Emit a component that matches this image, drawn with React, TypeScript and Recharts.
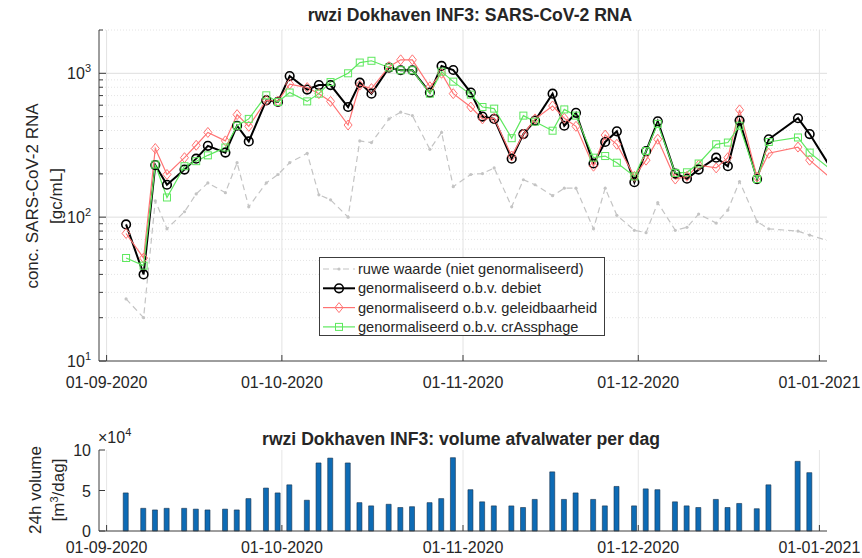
import React from "react";
import { LineChart, Line, BarChart, Bar, XAxis, YAxis, ReferenceLine, Legend } from "recharts";

// sampling days, counted from 01-09-2020 (the last one lies past the x-limit)
const SAMPLE_DAYS = [
  3, 6, 8, 10, 13, 15, 17, 20, 22, 24, 27, 29, 31, 34, 36, 38, 41, 43, 45, 48,
  50, 52, 55, 57, 59, 62, 64, 66, 69, 71, 73, 76, 78, 80, 83, 85, 87, 90, 92, 94,
  97, 99, 101, 104, 106, 108, 111, 113, 118, 120, 124,
];
const SAMPLE_HOUR = 8;

// gc/mL
const RAW = [
  27, 20, 130, 83, 109, 145, 173, 148, 239, 118, 173, 198, 239, 278, 143, 132, 100, 339, 330, 482,
  537, 508, 296, 388, 163, 198, 201, 220, 118, 182, 168, 141, 159, 159, 83, 159, 103, 81, 78, 126,
  81, 85, 105, 91, 112, 177, 93, 83, 80, 75, 67,
];
const DEBIET = [
  89, 40, 230, 168, 214, 255, 313, 281, 432, 336, 649, 632, 957, 771, 828, 828, 583, 861, 722, 1096,
  1050, 1050, 735, 1125, 1054, 735, 500, 482, 255, 378, 469, 722, 432, 531, 236, 333, 395, 175, 288, 464,
  201, 185, 214, 259, 226, 469, 184, 348, 487, 378, 208,
];
const GELEID = [
  77, 52, 300, 198, 259, 316, 388, 339, 516, 428, 649, 640, 842, 796, 722, 638, 437, 828, 783, 1113,
  1241, 1241, 806, 1000, 722, 583, 482, 487, 266, 378, 482, 593, 487, 428, 226, 372, 321, 192, 249, 348,
  184, 192, 230, 220, 259, 557, 190, 278, 307, 249, 181,
];
const CRASS = [
  52, 46, 232, 137, 226, 245, 269, 305, 432, 482, 703, 632, 735, 638, 722, 869, 1000, 1188, 1222, 1097,
  1050, 1050, 722, 1027, 875, 711, 583, 568, 354, 508, 461, 399, 561, 508, 259, 266, 239, 192, 288, 445,
  203, 205, 236, 321, 330, 432, 184, 333, 358, 281, 208,
];

// m3/dag
const VOLUME = [
  47000, 28000, 26000, 28000, 28000, 27000, 26000, 27000, 26000, 40000,
  53000, 47000, 57000, 38000, 84000, 90000, 84000, 35000, 31000, 33000,
  29000, 30000, 35000, 40000, 90500, 51000, 36000, 31000, 31000, 29000,
  39000, 73000, 39000, 47000, 39000, 31000, 55000, 31000, 52000, 51000,
  36000, 31000, 29000, 39000, 29000, 34000, 27500, 57000, 86000, 72000,
];

const MONTH_DAYS = [0, 30, 61, 91, 122];
const MONTH_LABELS = ["01-09-2020", "01-10-2020", "01-11-2020", "01-12-2020", "01-01-2021"];
const LOG_MAJOR = [10, 100, 1000];
const LOG_MINOR = [20, 30, 40, 50, 60, 70, 80, 90, 200, 300, 400, 500, 600, 700, 800, 900, 2000];
const VOL_TICKS = [0, 50000, 100000];

const SERIES = [
  { key: "raw", name: "ruwe waarde (niet genormaliseerd)", color: "#c4c4c4", width: 1.2, dash: "6 4", marker: "dot" },
  { key: "debiet", name: "genormaliseerd o.b.v. debiet", color: "#000000", width: 2, dash: undefined, marker: "circle" },
  { key: "geleid", name: "genormaliseerd o.b.v. geleidbaarheid", color: "#ff7373", width: 1.2, dash: undefined, marker: "diamond" },
  { key: "crass", name: "genormaliseerd o.b.v. crAssphage", color: "#5ee85e", width: 1.2, dash: undefined, marker: "square" },
];

const FONT = '"Liberation Sans", Arial, Helvetica, sans-serif';
const TXT = "#262626";
const AX = "#3c3c3c";
const X_DOMAIN: [number, number] = [-1.3, 123.3];

const concRows = SAMPLE_DAYS.map((d, i) => ({
  t: d + SAMPLE_HOUR / 24,
  raw: RAW[i],
  debiet: DEBIET[i],
  geleid: GELEID[i],
  crass: CRASS[i],
}));
const volRows = VOLUME.map((v, i) => ({ t: SAMPLE_DAYS[i] + SAMPLE_HOUR / 24, vol: v }));

function Marker({ kind, cx, cy, color }: any) {
  if (cx == null || cy == null) return null;
  if (kind === "circle")
    return <circle cx={cx} cy={cy} r={4.3} fill="none" stroke={color} strokeWidth={1.6} />;
  if (kind === "diamond")
    return (
      <path
        d={`M${cx},${cy - 5}L${cx + 4},${cy}L${cx},${cy + 5}L${cx - 4},${cy}Z`}
        fill="none"
        stroke={color}
        strokeWidth={1}
      />
    );
  if (kind === "square")
    return <rect x={cx - 3.5} y={cy - 3.5} width={7} height={7} fill="none" stroke={color} strokeWidth={1} />;
  return <circle cx={cx} cy={cy} r={1.6} fill={color} />;
}

const makeXTick = (labelOffset: number, showLabel: boolean, dir: number) => (props: any) => {
  const { x, y, payload } = props;
  const i = MONTH_DAYS.indexOf(payload.value);
  return (
    <g>
      <line x1={x} x2={x} y1={y} y2={y + dir * 6} stroke={AX} />
      {showLabel && (
        <text x={x} y={y + labelOffset} textAnchor="middle" fontSize={16} fill={TXT} fontFamily={FONT}>
          {MONTH_LABELS[i]}
        </text>
      )}
    </g>
  );
};

const makeLogTick = (dir: number, showLabel: boolean) => (props: any) => {
  const { x, y, payload } = props;
  const exp = Math.log10(payload.value);
  const major = Math.abs(exp - Math.round(exp)) < 1e-6;
  return (
    <g>
      <line x1={x} x2={x + dir * (major ? 7 : 4)} y1={y} y2={y} stroke={AX} />
      {showLabel && major && (
        <text x={x - 8} y={y + 6} textAnchor="end" fontSize={16} fill={TXT} fontFamily={FONT}>
          <tspan>10</tspan>
          <tspan dy={-7} fontSize={11}>
            {Math.round(exp)}
          </tspan>
        </text>
      )}
    </g>
  );
};

const makeVolTick = (dir: number, showLabel: boolean) => (props: any) => {
  const { x, y, payload } = props;
  return (
    <g>
      <line x1={x} x2={x + dir * 6} y1={y} y2={y} stroke={AX} />
      {showLabel && (
        <text x={x - 8} y={y + 6} textAnchor="end" fontSize={16} fill={TXT} fontFamily={FONT}>
          {payload.value / 10000}
        </text>
      )}
    </g>
  );
};

function LegendBox() {
  return (
    <svg width={286} height={79} style={{ display: "block", overflow: "visible" }}>
      <rect x={0.5} y={0.5} width={285} height={78} fill="#fff" stroke={AX} strokeWidth={1} />
      {SERIES.map((s, i) => {
        const cy = 12 + i * 19.3;
        return (
          <g key={s.key}>
            <line x1={4} x2={36} y1={cy} y2={cy} stroke={s.color} strokeWidth={s.width} strokeDasharray={s.dash} />
            <Marker kind={s.marker} cx={20} cy={cy} color={s.color} />
            <text x={39} y={cy + 5} fontSize={14.6} fill={TXT} fontFamily={FONT}>
              {s.name}
            </text>
          </g>
        );
      })}
    </svg>
  );
}

const abs = (left: number, top: number, extra: React.CSSProperties = {}): React.CSSProperties => ({
  position: "absolute",
  left,
  top,
  fontFamily: FONT,
  color: TXT,
  whiteSpace: "nowrap",
  ...extra,
});

const rotLabel = (cx: number, cy: number): React.CSSProperties =>
  abs(cx, cy, { transform: "translate(-50%, -50%) rotate(-90deg)", fontSize: 17, lineHeight: "17px" });

export default function App() {
  return (
    <div style={{ position: "relative", width: 862, height: 558, background: "#fff", overflow: "hidden" }}>
      <style>{"body{margin:0;background:#fff}"}</style>

      <div style={{ position: "absolute", left: 0, top: 0 }}>
        <LineChart width={862} height={400} data={concRows} margin={{ top: 30, right: 35, bottom: 9, left: 0 }}>
          <XAxis
            xAxisId="x"
            dataKey="t"
            type="number"
            domain={X_DOMAIN}
            allowDataOverflow
            ticks={MONTH_DAYS}
            interval={0}
            height={30}
            axisLine={{ stroke: AX }}
            tickLine={false}
            tickSize={0}
            tickMargin={0}
            tick={makeXTick(27, true, -1)}
          />
          <XAxis
            xAxisId="top"
            orientation="top"
            dataKey="t"
            type="number"
            domain={X_DOMAIN}
            allowDataOverflow
            ticks={MONTH_DAYS}
            interval={0}
            height={0}
            axisLine={{ stroke: AX }}
            tickLine={false}
            tickSize={0}
            tickMargin={0}
            tick={makeXTick(0, false, 1)}
          />
          <YAxis
            yAxisId="y"
            type="number"
            scale="log"
            domain={[10, 2000]}
            allowDataOverflow
            ticks={[...LOG_MAJOR, ...LOG_MINOR].sort((a, b) => a - b)}
            interval={0}
            width={99}
            axisLine={{ stroke: AX }}
            tickLine={false}
            tickSize={0}
            tickMargin={0}
            tick={makeLogTick(1, true)}
          />
          <YAxis
            yAxisId="r"
            orientation="right"
            type="number"
            scale="log"
            domain={[10, 2000]}
            allowDataOverflow
            ticks={[...LOG_MAJOR, ...LOG_MINOR].sort((a, b) => a - b)}
            interval={0}
            width={0}
            axisLine={{ stroke: AX }}
            tickLine={false}
            tickSize={0}
            tickMargin={0}
            tick={makeLogTick(-1, false)}
          />
          {LOG_MINOR.map((v) => (
            <ReferenceLine key={`mn${v}`} xAxisId="x" yAxisId="y" y={v} stroke="#e4e4e4" strokeDasharray="1 2" />
          ))}
          {LOG_MAJOR.slice(1).map((v) => (
            <ReferenceLine key={`mj${v}`} xAxisId="x" yAxisId="y" y={v} stroke="#dedede" />
          ))}
          {MONTH_DAYS.map((d) => (
            <ReferenceLine key={`vx${d}`} xAxisId="x" yAxisId="y" x={d} stroke="#e2e2e2" />
          ))}
          {SERIES.map((s) => (
            <Line
              key={s.key}
              xAxisId="x"
              yAxisId="y"
              dataKey={s.key}
              name={s.name}
              stroke={s.color}
              strokeWidth={s.width}
              strokeDasharray={s.dash}
              dot={(p: any) => <Marker key={`${s.key}-${p.index}`} kind={s.marker} cx={p.cx} cy={p.cy} color={s.color} />}
              activeDot={false}
              isAnimationActive={false}
            />
          ))}
          <Legend
            layout="vertical"
            align="center"
            verticalAlign="middle"
            wrapperStyle={{ left: 319, top: 257, width: 286, height: 79 }}
            content={() => <LegendBox />}
          />
        </LineChart>
      </div>

      <div style={{ position: "absolute", left: 0, top: 420 }}>
        <BarChart width={862} height={138} data={volRows} margin={{ top: 30, right: 35, bottom: 5, left: 0 }}>
          <XAxis
            xAxisId="x"
            dataKey="t"
            type="number"
            domain={X_DOMAIN}
            allowDataOverflow
            ticks={MONTH_DAYS}
            interval={0}
            height={22}
            axisLine={{ stroke: AX }}
            tickLine={false}
            tickSize={0}
            tickMargin={0}
            tick={makeXTick(22, true, -1)}
          />
          <XAxis
            xAxisId="top"
            orientation="top"
            dataKey="t"
            type="number"
            domain={X_DOMAIN}
            allowDataOverflow
            ticks={MONTH_DAYS}
            interval={0}
            height={0}
            axisLine={{ stroke: AX }}
            tickLine={false}
            tickSize={0}
            tickMargin={0}
            tick={makeXTick(0, false, 1)}
          />
          <YAxis
            yAxisId="v"
            type="number"
            domain={[0, 100000]}
            ticks={VOL_TICKS}
            interval={0}
            width={99}
            axisLine={{ stroke: AX }}
            tickLine={false}
            tickSize={0}
            tickMargin={0}
            tick={makeVolTick(1, true)}
          />
          <YAxis
            yAxisId="r"
            orientation="right"
            type="number"
            domain={[0, 100000]}
            ticks={VOL_TICKS}
            interval={0}
            width={0}
            axisLine={{ stroke: AX }}
            tickLine={false}
            tickSize={0}
            tickMargin={0}
            tick={makeVolTick(-1, false)}
          />
          {MONTH_DAYS.map((d) => (
            <ReferenceLine key={`bx${d}`} xAxisId="x" yAxisId="v" x={d} stroke="#e6e6e6" />
          ))}
          <Bar
            xAxisId="x"
            yAxisId="v"
            dataKey="vol"
            fill="#0d6bb5"
            stroke="#17324d"
            strokeWidth={0.6}
            barSize={5}
            isAnimationActive={false}
          />
        </BarChart>
      </div>

      <div style={abs(470, 5, { transform: "translateX(-50%)", fontSize: 17.6, fontWeight: "bold" })}>
        rwzi Dokhaven INF3: SARS-CoV-2 RNA
      </div>
      <div style={rotLabel(32, 196)}>conc. SARS-CoV-2 RNA</div>
      <div style={rotLabel(56, 196)}>[gc/mL]</div>

      <div style={abs(461, 429, { transform: "translateX(-50%)", fontSize: 17.6, fontWeight: "bold" })}>
        rwzi Dokhaven INF3: volume afvalwater per dag
      </div>
      <div style={abs(98, 429, { fontSize: 16 })}>
        ×10<span style={{ fontSize: 11, position: "relative", top: -7 }}>4</span>
      </div>
      <div style={rotLabel(35, 490)}>24h volume</div>
      <div style={rotLabel(59, 490)}>
        [m<span style={{ fontSize: 11, position: "relative", top: -6 }}>3</span>/dag]
      </div>
    </div>
  );
}
